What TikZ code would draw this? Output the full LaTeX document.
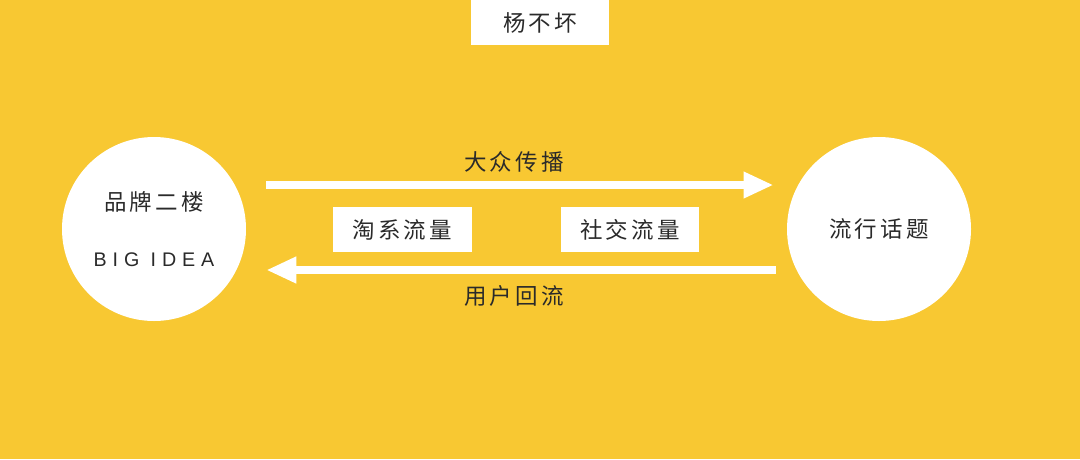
\documentclass[tikz,border=0pt]{standalone}
\usepackage{fontspec}
\newfontfamily\cjk[LetterSpace=14]{Noto Sans CJK SC}
\newfontfamily\latin[LetterSpace=30]{Liberation Sans}
\usetikzlibrary{arrows.meta}
\definecolor{bgyellow}{HTML}{F8C832}
\definecolor{inkgray}{HTML}{2A2A2A}
\tikzstyle{disc} = [circle, fill=white, minimum size=4.6cm,
    inner sep=0pt, align=center, text=inkgray]
\tikzstyle{block} = [rectangle, fill=white, 
    minimum width=3.47cm, minimum height=1.12cm, text=inkgray]
\tikzstyle{flowtext} = [text=inkgray]
\tikzstyle{line} = [draw=white, line width=0.2cm,
    -{Triangle[width=0.62cm,length=0.75cm]}]

\begin{document}
\begin{tikzpicture}[font=\cjk\fontsize{16pt}{19pt}\selectfont]
    % Background
\fill[bgyellow] (0,0) rectangle (27,-11.475);
\useasboundingbox (0,0) rectangle (27,-11.475);

    % Place nodes
\node[block] (author) at (13.5,-0.5625) {杨不坏};
\node[disc] (brand) at (3.85,-5.725) {品牌二楼\\[0.75cm]{\latin\fontsize{14pt}{17pt}\selectfont BIG IDEA}};
\node[disc] (topic) at (21.975,-5.725) {流行话题};
\node[block] (taobao) at (10.06,-5.74) {淘系流量};
\node[block] (social) at (15.75,-5.74) {社交流量};
\node[flowtext] (spread) at (12.85,-4.05) {大众传播};
\node[flowtext] (back) at (12.85,-7.4) {用户回流};

    % Draw edges
\path [line, shorten <=0.5cm, shorten >=0.33cm] ([yshift=1.1cm]brand.east) -- ([yshift=1.1cm]topic.west);
\path [line, shorten <=0.28cm, shorten >=0.5cm] ([yshift=-1.025cm]topic.west) -- ([yshift=-1.025cm]brand.east);

\end{tikzpicture}
\end{document}
